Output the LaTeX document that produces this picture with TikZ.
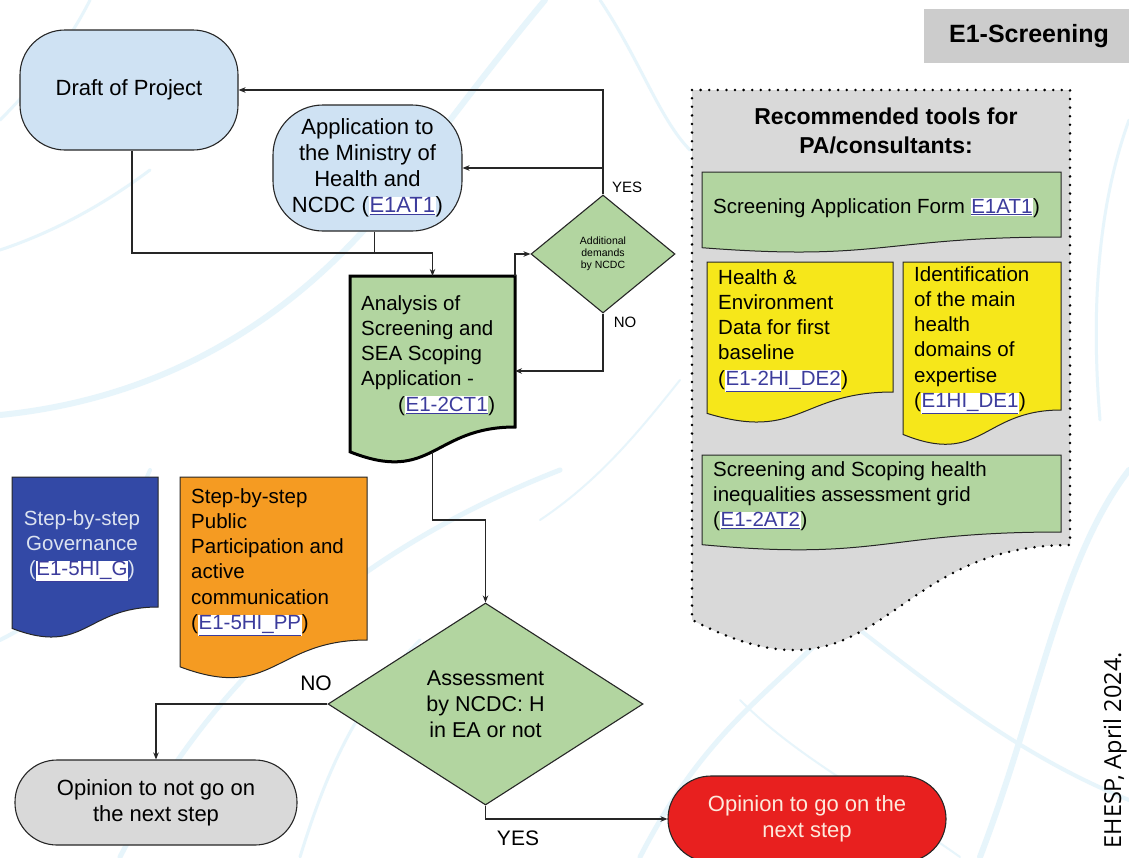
\documentclass[tikz,border=0pt]{standalone}
\usepackage{fontspec}
\setmainfont{Liberation Sans}
\newfontfamily\credfont{Open Sans}
\usetikzlibrary{shapes.geometric,arrows.meta,calc}
\pgfdeclarelayer{veins}
\pgfdeclarelayer{shapes}
\pgfsetlayers{veins,shapes,main}

\definecolor{lblue}{HTML}{CFE2F3}
\definecolor{lgreen}{HTML}{B2D5A0}
\definecolor{docyellow}{HTML}{F6E71A}
\definecolor{docblue}{HTML}{3349A6}
\definecolor{docorange}{HTML}{F59B22}
\definecolor{stopgray}{HTML}{D9D9D9}
\definecolor{panelgray}{HTML}{D9D9D9}
\definecolor{hdrgray}{HTML}{CCCCCC}
\definecolor{gored}{HTML}{E8201F}
\definecolor{gotext}{HTML}{FDE9DC}
\definecolor{govtext}{HTML}{DCE3F0}
\definecolor{linkc}{HTML}{3C3C9C}
\definecolor{veinc}{HTML}{E7F5FB}
\definecolor{edge}{HTML}{262626}

% hyperlink-looking reference code
\newcommand\lnk[1]{{\setlength\fboxsep{0.6pt}\colorbox{white}{\textcolor{linkc}{\underline{#1}}}}}

% document outline below a frame node: #1 frame name, #2 full height, #3 style
\newcommand\docwave[3]{%
  \path[#3] (#1.north west) -- (#1.north east) -- (#1.south east)
    .. controls (#1.south) and ($(#1.south)+(0,{0.3055*#2})$)
    .. ($(#1.south west)+(0,{0.132*#2})$) -- cycle;}

\begin{document}
\begin{tikzpicture}[x=1pt,y=-1pt,
  conn/.style={draw=edge, line width=1.1pt},
  arr/.style={conn, -{Stealth[length=7pt,width=5.5pt]}},
  termbox/.style={rectangle, draw=edge, line width=1.1pt, align=center, inner sep=2pt},
  frame/.style={rectangle, inner sep=0pt, outer sep=0pt, anchor=north west},
  body/.style={font=\fontsize{20.5}{25.3}\selectfont, align=left, inner sep=0pt, anchor=north west},
  decision/.style={diamond, draw=edge, line width=1.1pt, fill=lgreen, inner sep=0pt, align=center},
  docline/.style={draw=edge, line width=1pt},
  vein/.style={draw=veinc, line cap=round},
  smalllbl/.style={font=\fontsize{15}{18}\selectfont, inner sep=0pt},
  biglbl/.style={font=\fontsize{21}{25}\selectfont, inner sep=0pt}
]
\useasboundingbox (0,0) rectangle (1129,857);

% pale leaf-vein background
\begin{pgfonlayer}{veins}
  \fill[white] (0,0) rectangle (1129,857);
  \draw[vein, line width=6] (0,415) .. controls (150,400) and (300,330) .. (420,160) .. controls (480,80) and (520,30) .. (545,0);
  \draw[vein, line width=5] (120,857) .. controls (200,700) and (330,560) .. (560,470);
  \draw[vein, line width=5] (640,857) .. controls (700,740) and (760,700) .. (820,640);
  \draw[vein, line width=6] (1129,470) .. controls (1060,560) and (1040,700) .. (980,857);
  \draw[vein, line width=4] (0,640) .. controls (80,600) and (120,540) .. (150,470);
  \draw[vein, line width=4] (860,630) .. controls (950,700) and (1030,760) .. (1129,800);
  \draw[vein, line width=3] (600,0) .. controls (640,60) and (660,120) .. (690,150);
  \draw[vein, line width=3] (0,120) .. controls (40,80) and (70,40) .. (90,0);
  \draw[vein, line width=3] (0,250) .. controls (60,230) and (110,200) .. (150,170);
  \draw[vein, line width=3] (300,857) .. controls (330,760) and (360,700) .. (420,640);
  \draw[vein, line width=3] (1129,120) .. controls (1100,200) and (1090,300) .. (1100,420);
  \draw[vein, line width=2] (740,700) .. controls (800,760) and (880,800) .. (960,857);
  \draw[vein, line width=2] (540,520) .. controls (600,480) and (640,430) .. (680,380);
\end{pgfonlayer}

% header tag
\node[fill=hdrgray, minimum width=210, minimum height=54, inner sep=0pt,
      font=\bfseries\fontsize{25}{29}\selectfont] (hdr) at (1029,36) {E1-Screening};

% terminal boxes
\node[termbox, fill=lblue, minimum width=218, minimum height=120, rounded corners=45,
      font=\fontsize{22}{26}\selectfont] (draft) at (129,90) {Draft of Project};
\node[termbox, fill=lblue, minimum width=189, minimum height=126, rounded corners=50,
      font=\fontsize{22}{26}\selectfont] (app) at (367.5,168)
      {Application to\\the Ministry of\\Health and\\NCDC (\lnk{E1AT1})};
\node[termbox, fill=stopgray, minimum width=282, minimum height=85, rounded corners=42,
      font=\fontsize{22}{26}\selectfont] (stop) at (156,802.5)
      {Opinion to not go on\\the next step};
\node[termbox, fill=gored, text=gotext, minimum width=278, minimum height=86, rounded corners=43,
      font=\fontsize{22}{26}\selectfont] (go) at (807,819)
      {Opinion to go on the\\next step};

% decisions
\node[decision, minimum width=144, minimum height=118,
      font=\fontsize{10.5}{12}\selectfont] (dem) at (603,254) {Additional\\demands\\by NCDC};
\node[decision, minimum width=315, minimum height=202,
      font=\fontsize{21.5}{26}\selectfont] (ass) at (485.5,704) {Assessment\\by NCDC: H\\in EA or not};

% frames of the document-shaped boxes
\node[frame, minimum width=165, minimum height=151] (ana) at (350,276) {};
\node[frame, minimum width=146, minimum height=130] (gov) at (12,477) {};
\node[frame, minimum width=187, minimum height=163] (pp) at (180,477) {};
\node[frame, minimum width=378, minimum height=455] (panel) at (692,90) {};
\node[frame, minimum width=359, minimum height=65] (form) at (702,172) {};
\node[frame, minimum width=186, minimum height=130] (data) at (707,262) {};
\node[frame, minimum width=158, minimum height=148] (dom) at (903,262) {};
\node[frame, minimum width=359, minimum height=77] (grid) at (702,455) {};

\begin{pgfonlayer}{shapes}
  \docwave{panel}{567}{fill=panelgray, draw=black, line width=2.8pt, line cap=round, dash pattern=on 0pt off 8.6pt}
  \docwave{ana}{188}{fill=lgreen, draw=black, line width=3pt}
  \docwave{gov}{162}{fill=docblue, docline}
  \docwave{pp}{203}{fill=docorange, docline}
  \docwave{form}{81}{fill=lgreen, docline}
  \docwave{data}{162}{fill=docyellow, docline}
  \docwave{dom}{185}{fill=docyellow, docline}
  \docwave{grid}{96}{fill=lgreen, docline}
\end{pgfonlayer}

% texts of the document-shaped boxes
\node[body] (anaT) at (361,295) {Analysis of\\Screening and\\SEA Scoping\\Application -\\\hspace*{37pt}(\lnk{E1-2CT1})};
\node[body, align=center, anchor=north, text=govtext] (govT) at (82,510) {Step-by-step\\Governance\\(\lnk{E1-5HI\_G})};
\node[body] (ppT) at (191,488) {Step-by-step\\Public\\Participation and\\active\\communication\\(\lnk{E1-5HI\_PP})};
\node[font=\bfseries\fontsize{23}{29}\selectfont, align=center, inner sep=0pt] (ttl) at (886,131) {Recommended tools for\\PA/consultants:};
\node[body] (formT) at (713,198) {Screening Application Form \lnk{E1AT1})};
\node[body] (dataT) at (718,269) {Health \&\\Environment\\Data for first\\baseline\\(\lnk{E1-2HI\_DE2})};
\node[body] (domT) at (914,266) {Identification\\of the main\\health\\domains of\\expertise\\(\lnk{E1HI\_DE1})};
\node[body] (gridT) at (713,461) {Screening and Scoping health\\inequalities assessment grid\\(\lnk{E1-2AT2})};

% connectors
\draw[arr] (dem.north) |- (draft.east);
\draw[arr] (dem.north |- app.east) -- (app.east);
\coordinate (mrg) at ($(ana.north)+(0,-23)$);
\draw[conn] ([xshift=3]draft.south) |- (mrg);
\draw[arr] ([xshift=7]app.south) |- (mrg) -- (ana.north);
\draw[arr] (ana.north east) |- (dem.west);
\coordinate (anaIn) at ($(ana.north east)+(0,95)$);
\draw[arr] (dem.south) |- (anaIn);
\coordinate (anaOut) at ($(ana.south)+(0,25)$);
\draw[arr] (anaOut) -- ++(0,68) -| (ass.north);
\draw[arr] (ass.west) -| (stop.north);
\draw[arr] (ass.south) |- (go.west);

% branch labels
\node[smalllbl] (yes1) at (627,187) {YES};
\node[smalllbl] (no1) at (625,322) {NO};
\node[biglbl] (no2) at (316,683) {NO};
\node[biglbl] (yes2) at (518,838) {YES};

% credit line
\node[rotate=90, anchor=east, inner sep=0pt, font=\credfont\fontsize{23.5}{28}\selectfont] (cred) at (1115,652) {EHESP, April 2024.};
\end{tikzpicture}
\end{document}
